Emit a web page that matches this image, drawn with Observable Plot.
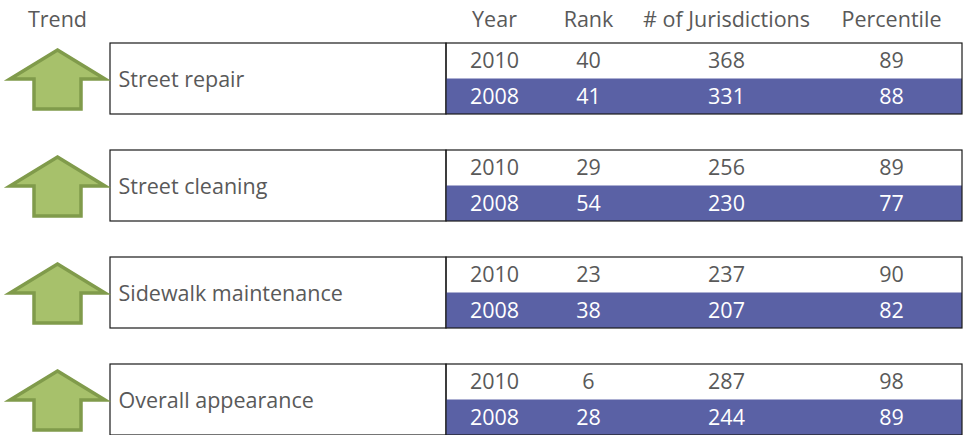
<!DOCTYPE html>
<html><head><meta charset="utf-8">
<script src="https://cdn.jsdelivr.net/npm/d3@7"></script>
<script src="https://cdn.jsdelivr.net/npm/@observablehq/plot@0.6"></script>
<style>
body{margin:0;background:#fff;}
#chart svg{display:block;}
</style>
</head><body><div id="chart"></div>
<script>
// ---- data ----
const metrics = ["Street repair", "Street cleaning", "Sidewalk maintenance", "Overall appearance"];
const trend = ["up", "up", "up", "up"];
const years = [2010, 2008];
const rank2010 = [40, 29, 23, 6];
const rank2008 = [41, 54, 38, 28];
const juris2010 = [368, 256, 237, 287];
const juris2008 = [331, 230, 207, 244];
const pct2010 = [89, 89, 90, 98];
const pct2008 = [88, 77, 82, 89];
const columns = ["Trend", "Year", "Rank", "# of Jurisdictions", "Percentile"];

// ---- layout (identity x scale, pixels) ----
const colX = {"Trend": 57, "Year": 494, "Rank": 588, "# of Jurisdictions": 726, "Percentile": 891};
const labelX = [110, 446], tableX = [446, 962], labelTextX = 118;
const ink = "#595959", blue = "#5a61a5";
const font = "'Open Sans', Lato, sans-serif";
const fs = 21.5;

const rows = metrics.flatMap((m, i) => [
  {metric: m, year: years[0], row: 0, Year: years[0], Rank: rank2010[i], "# of Jurisdictions": juris2010[i], Percentile: pct2010[i]},
  {metric: m, year: years[1], row: 1, Year: years[1], Rank: rank2008[i], "# of Jurisdictions": juris2008[i], Percentile: pct2008[i]}
]);
const groups = metrics.map((m, i) => ({metric: m, trend: trend[i]}));
const header = columns.map(c => ({col: c, metric: metrics[0]}));

// block "up" arrow glyph, drawn around the dot centre (r = 10 -> unit scale)
const upArrow = {
  draw(ctx, size) {
    const s = Math.sqrt(size / Math.PI) / 10;
    const pts = [[0, -29], [47.5, 0], [23.5, 0], [23.5, 30], [-23.5, 30], [-23.5, 0], [-47.5, 0]];
    ctx.moveTo(pts[0][0] * s, pts[0][1] * s);
    for (const [x, y] of pts.slice(1)) ctx.lineTo(x * s, y * s);
    ctx.closePath();
  }
};

const valueCols = columns.slice(1);
const textMarks = valueCols.map(c => Plot.text(rows, {
  fy: "metric", x: () => colX[c], y: d => d.row + 0.5, text: d => String(d[c]),
  fill: d => d.row === 1 ? "white" : ink, fontSize: fs, fontFamily: font
}));

const chart = Plot.plot({
  width: 966, height: 435,
  marginTop: 43, marginBottom: 0, marginLeft: 0, marginRight: 0,
  x: {domain: [0, 966], range: [0, 966], axis: null},
  y: {domain: [0, 2], reverse: true, axis: null},
  fy: {domain: metrics, paddingInner: 36 / 107, paddingOuter: 0, axis: null, label: null},
  color: {type: "identity"},
  style: {fontFamily: font, background: "white"},
  marks: [
    Plot.rect(groups, {fy: "metric", x1: () => labelX[0], x2: () => labelX[1], y1: () => 0, y2: () => 2, fill: "white", stroke: "#1a1a1a", strokeWidth: 1.2}),
    Plot.rect(rows.filter(d => d.row === 1), {fy: "metric", x1: () => tableX[0], x2: () => tableX[1], y1: () => 1, y2: () => 2, fill: blue}),
    Plot.rect(groups, {fy: "metric", x1: () => tableX[0], x2: () => tableX[1], y1: () => 0, y2: () => 2, fill: "none", stroke: "#1a1a1a", strokeWidth: 1.2}),
    Plot.text(groups, {fy: "metric", x: () => labelTextX, y: () => 1, dy: 1, text: "metric", textAnchor: "start", fill: ink, fontSize: fs, fontFamily: font}),
    Plot.dot(groups.filter(d => d.trend === "up"), {fy: "metric", x: () => colX["Trend"], y: () => 1, r: 10, symbol: upArrow, fill: "#a7c16b", stroke: "#809b4b", strokeWidth: 3.5, strokeLinejoin: "miter"}),
    ...textMarks,
    Plot.text(header, {fy: "metric", x: d => colX[d.col], y: () => -0.65, text: "col", fill: ink, fontSize: fs, fontFamily: font})
  ]
});
document.getElementById("chart").appendChild(chart);
</script>
</body></html>
